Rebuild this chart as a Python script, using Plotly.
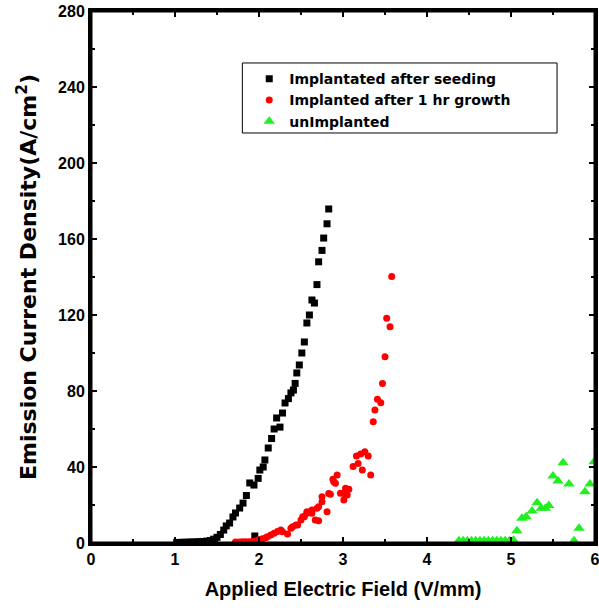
import plotly.graph_objects as go

# Implantated after seeding
black_x = [1.02, 1.06, 1.10, 1.14, 1.18, 1.22, 1.26, 1.30, 1.34, 1.38, 1.42, 1.46,
           1.50, 1.54, 1.58, 1.61, 1.65, 1.69, 1.72, 1.77, 1.81, 1.85, 1.89, 1.94,
           1.95, 1.99, 2.01, 2.05, 2.07, 2.11, 2.15, 2.18, 2.21, 2.25, 2.28, 2.31,
           2.35, 2.38, 2.41, 2.43, 2.45, 2.48, 2.51, 2.54, 2.57, 2.60, 2.63, 2.66,
           2.69, 2.71, 2.75, 2.77, 2.81, 2.83]
black_y = [0.3, 0.3, 0.4, 0.4, 0.5, 0.5, 0.6, 0.7, 0.8, 1.0, 1.3, 2.0,
           3.0, 4.5, 6.8, 9.0, 10.5, 13.7, 15.8, 18.4, 21.0, 25.0, 31.6, 30.5,
           3.7, 34.0, 38.4, 40.0, 43.7, 50.0, 55.0, 60.0, 65.8, 61.0, 68.4, 73.7,
           76.0, 79.0, 80.5, 84.0, 89.5, 93.7, 100.0, 105.8, 115.8, 120.0, 127.9, 126.3,
           136.0, 148.0, 154.0, 160.5, 168.0, 175.8]

# Implanted after 1 hr growth
red_x = [1.72, 1.76, 1.80, 1.84, 1.88, 1.92, 1.96, 2.00, 2.04, 2.08, 2.10, 2.14,
         2.18, 2.22, 2.26, 2.28, 2.34, 2.38, 2.40, 2.44, 2.46, 2.50, 2.52, 2.54,
         2.57, 2.57, 2.63, 2.63, 2.67, 2.69, 2.71, 2.71, 2.75, 2.75, 2.81, 2.83,
         2.85, 2.88, 2.89, 2.91, 2.93, 2.97, 3.01, 3.01, 3.03, 3.05, 3.07, 3.12,
         3.16, 3.18, 3.21, 3.23, 3.26, 3.30, 3.33, 3.36, 3.38, 3.41, 3.45, 3.47,
         3.50, 3.52, 3.56, 3.58]
red_y = [0.5, 0.5, 0.6, 0.6, 0.7, 0.8, 1.0, 1.9, 2.2, 2.8, 3.3, 4.2,
         5.1, 6.0, 6.8, 5.9, 4.7, 7.7, 8.6, 9.5, 9.5, 12.1, 13.8, 13.8,
         15.6, 16.5, 17.4, 15.6, 12.1, 18.3, 19.1, 11.7, 21.7, 24.4, 16.5, 26.0,
         25.6, 33.5, 32.3, 31.4, 35.8, 26.2, 22.6, 26.0, 28.8, 25.3, 28.3, 40.2,
         45.8, 41.9, 46.8, 38.4, 48.0, 45.8, 35.8, 63.8, 70.0, 75.6, 73.8, 84.0,
         98.0, 118.3, 113.8, 140.2]

# unImplanted
green_x = [4.38, 4.43, 4.48, 4.53, 4.58, 4.63, 4.68, 4.73, 4.78, 4.83, 4.88, 4.93,
           4.98, 5.03, 5.07, 5.13, 5.18, 5.25, 5.31, 5.36, 5.41, 5.45, 5.50, 5.56,
           5.62, 5.69, 5.75, 5.81, 5.88, 5.94, 5.99]
green_y = [1.2, 1.2, 1.2, 1.2, 1.2, 1.2, 1.2, 1.2, 1.2, 1.2, 1.2, 1.2,
           1.2, 1.5, 6.5, 13.0, 13.8, 16.8, 21.2, 18.3, 18.3, 19.8, 35.3, 32.6,
           42.3, 31.0, 1.2, 7.7, 27.0, 31.0, 42.8]

names = ["Implantated after seeding", "Implanted after 1 hr growth", "unImplanted"]
x_ticks = [0, 1, 2, 3, 4, 5, 6]
y_ticks = [0, 40, 80, 120, 160, 200, 240, 280]

fig = go.Figure()
fig.add_trace(go.Scatter(x=black_x, y=black_y, mode="markers", name=names[0],
                         marker=dict(symbol="square", size=7, color="black")))
fig.add_trace(go.Scatter(x=red_x, y=red_y, mode="markers", name=names[1],
                         marker=dict(symbol="circle", size=7, color="#ff0000")))
fig.add_trace(go.Scatter(x=green_x, y=green_y, mode="markers", name=names[2],
                         marker=dict(symbol="triangle-up", size=10, color="#22ee22")))

font_family = "Liberation Sans, Arial, sans-serif"
axis_common = dict(
    showline=True, linecolor="black", linewidth=3, mirror="ticks",
    ticks="inside", ticklen=6, tickwidth=2, tickcolor="black",
    showgrid=False, zeroline=False, automargin=False, ticklabeloverflow="allow",
    tickfont=dict(family=font_family, size=16, color="black", weight="bold"),
)

fig.update_xaxes(range=[0, 6], tickvals=x_ticks, ticktext=[str(v) for v in x_ticks],
                 minor=dict(dtick=0.5, ticks="inside", ticklen=4, tickwidth=2, tickcolor="black"),
                 title=dict(text="<b>Applied Electric Field (V/mm)</b>", standoff=15,
                            font=dict(family=font_family, size=20, color="black")),
                 **axis_common)
fig.update_yaxes(range=[0, 280], tickvals=y_ticks, ticktext=[str(v) for v in y_ticks],
                 minor=dict(dtick=20, ticks="inside", ticklen=4, tickwidth=2, tickcolor="black"),
                 title=dict(text="<b>Emission Current Density(A/cm<sup>2</sup>)</b>", standoff=16,
                            font=dict(family="DejaVu Sans, sans-serif", size=22, color="black")),
                 **axis_common)

# plot frame
fig.add_shape(type="rect", xref="paper", yref="paper", x0=0, x1=1, y0=0, y1=1,
              line=dict(color="black", width=3), layer="above")
# legend frame (wider than the auto legend box, as in the reference)
fig.add_shape(type="rect", xref="paper", yref="paper",
              x0=0.3003, x1=0.9247, y0=0.7707, y1=0.9023,
              line=dict(color="black", width=1), fillcolor="white", layer="below")

fig.update_layout(
    width=599, height=614,
    margin=dict(l=91, r=4, t=11, b=71),
    paper_bgcolor="white", plot_bgcolor="white",
    showlegend=True,
    legend=dict(x=0.314, y=0.902, xanchor="left", yanchor="top",
                bgcolor="rgba(0,0,0,0)", borderwidth=0,
                font=dict(family="DejaVu Sans, sans-serif", size=14, color="black", weight="bold")),
)

fig.write_html("out.html", config={"displayModeBar": False},
               post_script="document.body.style.margin='0';document.body.style.overflow='hidden';")
